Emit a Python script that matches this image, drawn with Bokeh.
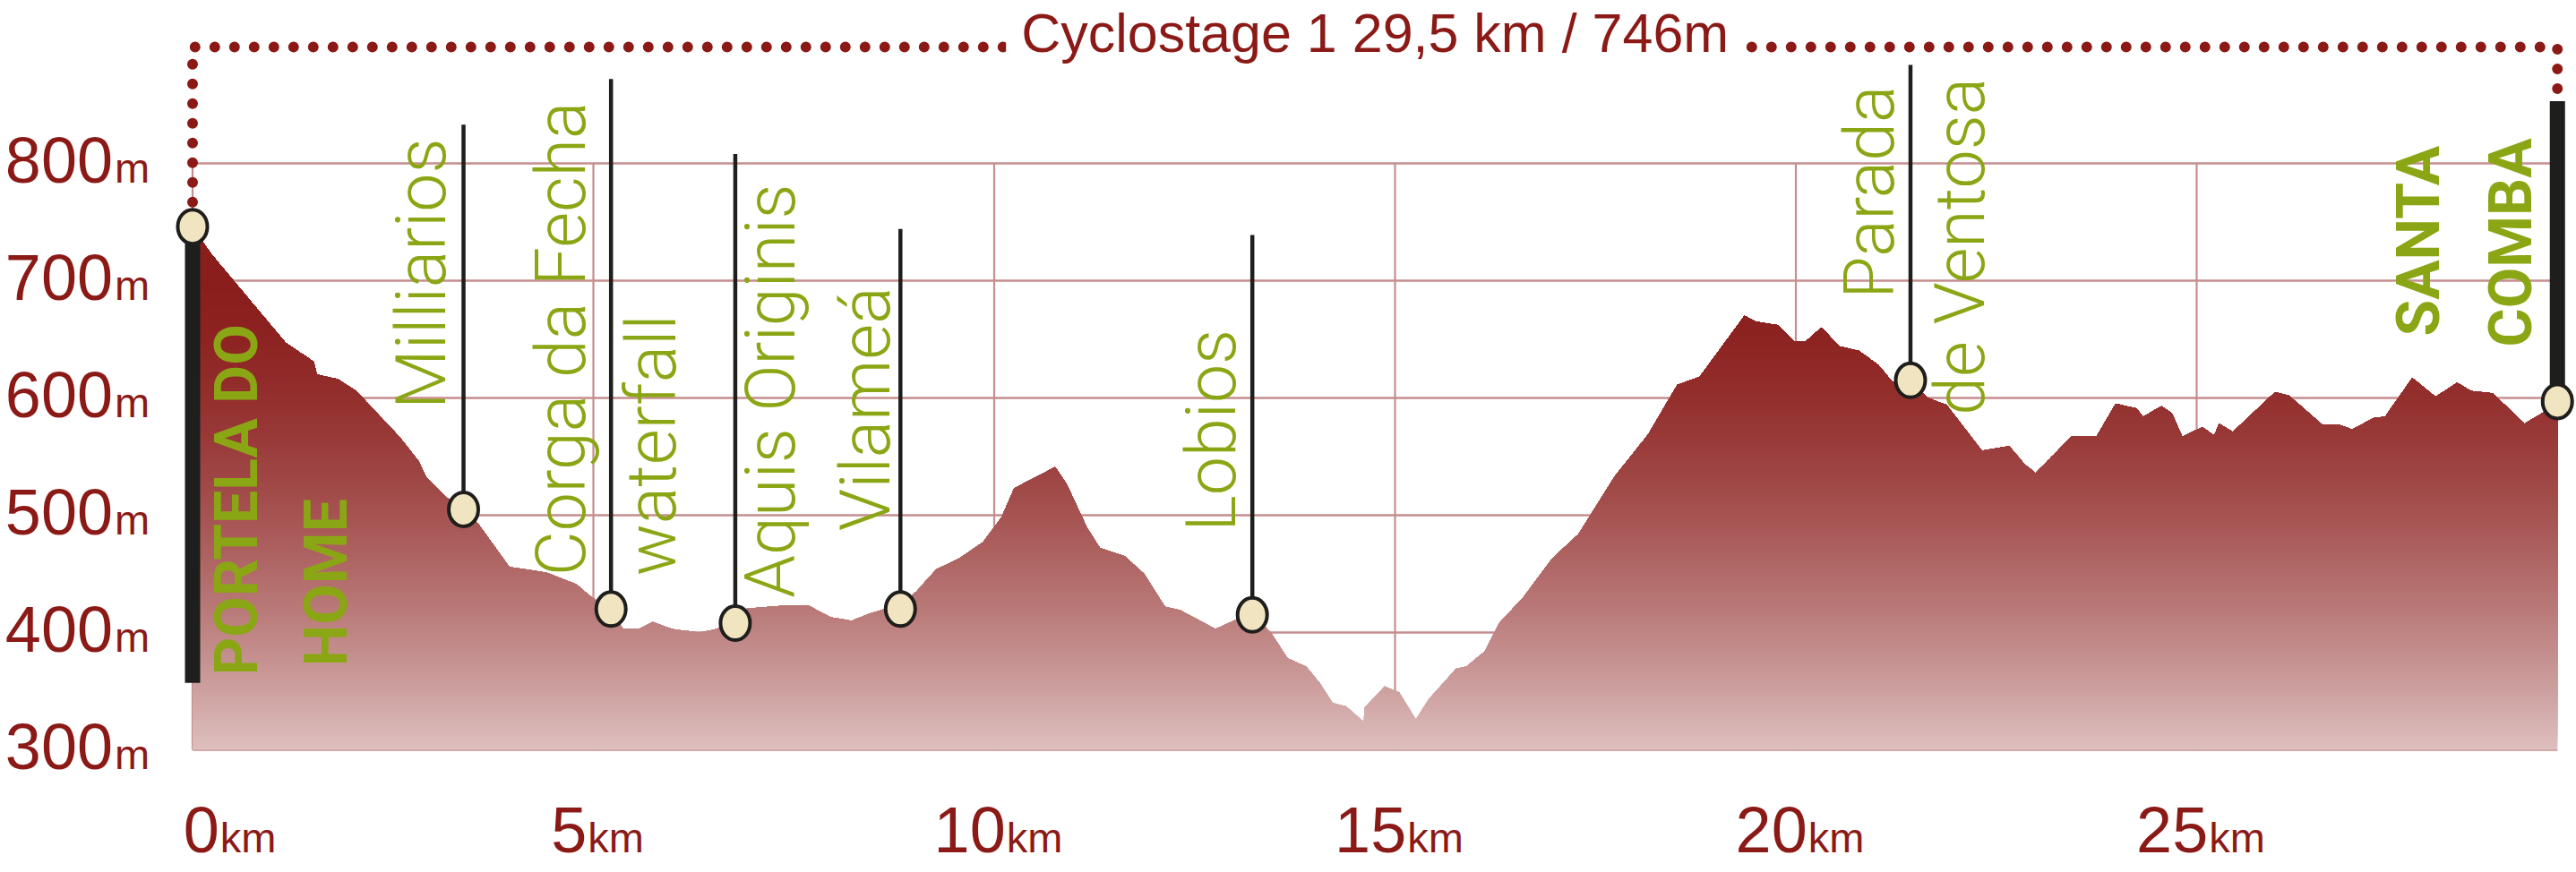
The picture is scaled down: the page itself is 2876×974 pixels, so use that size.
import numpy as np
from bokeh.plotting import figure
from bokeh.models import ColumnDataSource, Range1d, Label
from bokeh.core.properties import value
from bokeh.embed import file_html
from bokeh.resources import INLINE

# ---------------- data ----------------
dist_km = [0.00, 0.23, 0.51, 1.16, 1.51, 1.55, 1.81, 2.04, 2.59, 2.82, 2.91, 3.15, 3.38, 3.56,
           3.95, 4.42, 4.79, 4.98, 5.22, 5.37, 5.57, 5.74, 5.98, 6.32, 6.54, 6.77, 6.88, 7.02,
           7.40, 7.68, 7.96, 8.22, 8.44, 8.83, 9.03, 9.28, 9.56, 9.86, 10.09, 10.25, 10.76,
           10.90, 11.16, 11.32, 11.63, 11.87, 12.13, 12.32, 12.76, 13.02, 13.22, 13.45, 13.66,
           13.89, 14.06, 14.22, 14.39, 14.61, 14.62, 14.87, 15.05, 15.26, 15.42, 15.76, 15.89,
           16.12, 16.30, 16.60, 16.96, 17.29, 17.74, 18.16, 18.52, 18.80, 19.36, 19.50, 19.78,
           19.98, 20.12, 20.32, 20.54, 20.79, 21.03, 21.20, 21.43, 21.65, 21.88, 22.32, 22.66,
           22.86, 22.99, 23.44, 23.75, 23.99, 24.25, 24.33, 24.56, 24.69, 24.82, 25.07, 25.22,
           25.28, 25.45, 25.98, 26.15, 26.57, 26.79, 26.94, 27.21, 27.35, 27.69, 27.98, 28.25,
           28.42, 28.69, 29.09, 29.31, 29.50]
elev_m = [746, 723, 700, 647, 631, 620, 616, 606, 566, 546, 533, 516, 505, 493,
          456, 451, 441, 430, 420, 403, 403, 409, 403, 400, 403, 413, 420, 421,
          423, 423, 413, 410, 416, 424, 435, 454, 463, 477, 498, 523, 541,
          527, 489, 472, 465, 450, 422, 419, 403, 411, 416, 400, 378,
          371, 357, 340, 337, 324, 336, 354, 349, 326, 343, 369, 371,
          384, 408, 430, 463, 484, 533, 569, 611, 618, 670, 665, 662,
          648, 648, 660, 644, 640, 628, 614, 613, 600, 594, 555, 559,
          543, 536, 567, 567, 595, 591, 584, 593, 587, 567, 575, 568,
          578, 571, 605, 602, 577, 577, 573, 583, 584, 617, 601, 613,
          606, 604, 578, 587, 597]

poi_names = ["Milliarios", "Corga da Fecha\nwaterfall", "Aquis Originis", "Vilameá",
             "Lobios", "Parada\nde Ventosa"]
poi_km = [3.38, 5.22, 6.77, 8.83, 13.22, 21.43]
poi_elev = [505, 420, 408, 420, 415, 615]
poi_stem_top = [833, 872, 808, 744, 739, 884]

town_names = ["PORTELA DO\nHOME", "SANTA\nCOMBA"]
town_km = [0.0, 29.5]
town_elev = [746, 597]
town_bar_end = [357, 853]

x_ticks = [0, 5, 10, 15, 20, 25]
x_tick_labels = ["0", "5", "10", "15", "20", "25"]
x_unit = "km"
y_ticks = [300, 400, 500, 600, 700, 800]
y_tick_labels = ["300", "400", "500", "600", "700", "800"]
y_unit = "m"
title_text = "Cyclostage 1 29,5 km / 746m"

# ---------------- layout / style ----------------
W, H = 2876, 974
PX_PER_KM = 89.5
PX_PER_M = 1.31
X0_PX = 214.5          # screen x of 0 km
Y800_PX = 182.0        # screen y of 800 m
x_start = -X0_PX / PX_PER_KM
x_end = (W - X0_PX) / PX_PER_KM
y_end = 800 + Y800_PX / PX_PER_M
y_start = 800 - (H - Y800_PX) / PX_PER_M

DARK_RED = "#8B1A17"
GRID = "#C68E8E"
GREEN = "#8BA614"
MARKER_FILL = "#F1E4C1"
BLACK = "#1E1E1C"
SANS = "Liberation Sans"
LIGHT = "Roboto Light, Lato Light, Liberation Sans"
BOLD = "Roboto, Liberation Sans"

# label line offsets (screen px): (centre-of-line x, start y) relative to marker centre
poi_label_offsets = [[(-47, -112)], [(-55, -37), (46, -37)], [(40, -28)], [(-38, -87)],
                     [(-45, -93)], [(-45, -91), (56, 39)]]
town_label_offsets = [[(49, 501), (149, 491)], [(-155, -73), (-52, -61)]]

p = figure(width=W, height=H, output_backend="svg", toolbar_location=None,
           x_range=Range1d(x_start, x_end), y_range=Range1d(y_start, y_end),
           x_axis_location=None, y_axis_location=None, min_border=0, title=None)
p.grid.visible = False
p.outline_line_color = None
p.background_fill_color = "white"
p.border_fill_color = "white"

# ---- grid ----
last_km = dist_km[-1]
p.segment(x0=[0] * len(y_ticks), y0=y_ticks, x1=[last_km] * len(y_ticks), y1=y_ticks,
          line_color=GRID, line_width=2.6)
p.segment(x0=x_ticks, y0=[y_ticks[0]] * len(x_ticks), x1=x_ticks, y1=[y_ticks[-1]] * len(x_ticks),
          line_color=GRID, line_width=2.2)

# ---- gradient area (stacked bands) ----
xs = np.array(dist_km, float)
ys = np.array(elev_m, float)
step = 3.0
levels = np.arange(y_ticks[0], ys.max(), step)
px_, py_ = [xs[0]], [ys[0]]
for i in range(len(xs) - 1):
    xa, ya, xb, yb = xs[i], ys[i], xs[i + 1], ys[i + 1]
    if yb != ya:
        lo, hi = min(ya, yb), max(ya, yb)
        ls = levels[(levels > lo) & (levels < hi)]
        ts = np.sort((ls - ya) / (yb - ya))
        for t in ts:
            px_.append(xa + t * (xb - xa))
            py_.append(ya + t * (yb - ya))
    px_.append(xb)
    py_.append(yb)
px_ = np.array(px_)
py_ = np.array(py_)


def band_color(m):
    s = min(max((700.0 - m) / 400.0, 0.0), 1.0)
    t = s ** 1.6
    dark = (138, 30, 28)
    light = (221, 192, 191)
    c = [int(round(d + t * (l - d))) for d, l in zip(dark, light)]
    return "#%02x%02x%02x" % tuple(c)


poly_xs, poly_ys, poly_c = [], [], []
for a in levels:
    idx = np.flatnonzero(py_ >= a - 1e-6)
    if len(idx) < 2:
        continue
    splits = np.where(np.diff(idx) > 1)[0] + 1
    for run in np.split(idx, splits):
        if len(run) < 2:
            continue
        rx = px_[run]
        ry = py_[run]
        poly_xs.append(list(rx) + [rx[-1], rx[0]])
        poly_ys.append(list(ry) + [a, a])
        poly_c.append(band_color(a + step / 2))
p.patches(xs=poly_xs, ys=poly_ys, fill_color=poly_c, line_color=None)

# ---- dotted frame ----
DOT_PX = 52
DOT_Y = 800 + (Y800_PX - DOT_PX) / PX_PER_M
p.line(x=[town_km[0], town_km[0], town_km[1], town_km[1]],
       y=[town_elev[0] + 21, DOT_Y, DOT_Y, town_bar_end[1]],
       line_color=DARK_RED, line_width=12, line_dash="0 22", line_cap="round")

# ---- stems, bars, markers ----
p.segment(x0=poi_km, y0=poi_elev, x1=poi_km, y1=poi_stem_top, line_color=BLACK, line_width=4.5)
p.segment(x0=town_km, y0=town_elev, x1=town_km, y1=town_bar_end, line_color=BLACK, line_width=17)
p.ellipse(x=poi_km + town_km, y=poi_elev + town_elev, width=33, height=38,
          width_units="screen", height_units="screen",
          fill_color=MARKER_FILL, line_color=BLACK, line_width=4)


# ---- rotated labels ----
def label_source(names, kms, elevs, offsets):
    d = dict(x=[], y=[], text=[], dx=[], dy=[])
    for name, k, e, offs in zip(names, kms, elevs, offsets):
        for line, (dx, dy) in zip(name.split("\n"), offs):
            d["x"].append(k)
            d["y"].append(e)
            d["text"].append(line)
            d["dx"].append(dx)
            d["dy"].append(dy)
    return ColumnDataSource(d)


p.text(x="x", y="y", text="text", x_offset="dx", y_offset="dy",
       source=label_source(poi_names, poi_km, poi_elev, poi_label_offsets),
       angle=np.pi / 2, text_align="left", text_baseline="middle",
       text_font=value(LIGHT), text_font_size=value("77px"), text_color=GREEN)
p.text(x="x", y="y", text="text", x_offset="dx", y_offset="dy",
       source=label_source(town_names, town_km, town_elev, town_label_offsets),
       angle=np.pi / 2, text_align="left", text_baseline="middle",
       text_font=value(BOLD), text_font_style="bold", text_font_size=value("66px"),
       text_color=GREEN)

# ---- axis tick labels ----
NUM_SIZE, UNIT_SIZE = 72, 47
BASE_K = 0.3465   # baseline sits this many em below a "middle" anchor
ysrc = ColumnDataSource(dict(x=[0] * len(y_ticks), y=y_ticks, num=y_tick_labels,
                             unit=[y_unit] * len(y_ticks)))
num_dy = -4
unit_dy = num_dy + BASE_K * (NUM_SIZE - UNIT_SIZE)
p.text(x="x", y="y", text="num", source=ysrc, x_offset=-89, y_offset=num_dy,
       text_align="right", text_baseline="middle", text_font=value(SANS),
       text_font_size=value(f"{NUM_SIZE}px"), text_color=DARK_RED)
p.text(x="x", y="y", text="unit", source=ysrc, x_offset=-87, y_offset=unit_dy,
       text_align="left", text_baseline="middle", text_font=value(SANS),
       text_font_size=value(f"{UNIT_SIZE}px"), text_color=DARK_RED)

num_w = [len(s) * 0.556 * NUM_SIZE for s in x_tick_labels]
unit_w = 1.333 * UNIT_SIZE
x_off = [(nw - unit_w) / 2 + 4 for nw in num_w]
x_off[0] += 37
xnum_dy = 89
xunit_dy = xnum_dy + BASE_K * (NUM_SIZE - UNIT_SIZE)
xsrc = ColumnDataSource(dict(x=x_ticks, y=[y_ticks[0]] * len(x_ticks), num=x_tick_labels,
                             unit=[x_unit] * len(x_ticks), off=x_off,
                             off2=[o + 1 for o in x_off]))
p.text(x="x", y="y", text="num", source=xsrc, x_offset="off", y_offset=xnum_dy,
       text_align="right", text_baseline="middle", text_font=value(SANS),
       text_font_size=value(f"{NUM_SIZE}px"), text_color=DARK_RED)
p.text(x="x", y="y", text="unit", source=xsrc, x_offset="off2", y_offset=xunit_dy,
       text_align="left", text_baseline="middle", text_font=value(SANS),
       text_font_size=value(f"{UNIT_SIZE}px"), text_color=DARK_RED)

# ---- title (white box interrupts the dotted frame) ----
TITLE_MID_PX = 36
title = Label(x=(town_km[0] + town_km[1]) / 2,
              y=800 + (Y800_PX - TITLE_MID_PX) / PX_PER_M,
              text="\u00a0" + title_text + "\u00a0",
              text_align="center", text_baseline="middle", text_font=SANS,
              text_font_size="61px", text_color=DARK_RED,
              background_fill_color="white")
p.add_layout(title)

open("out.html", "w").write(file_html(p, INLINE))
